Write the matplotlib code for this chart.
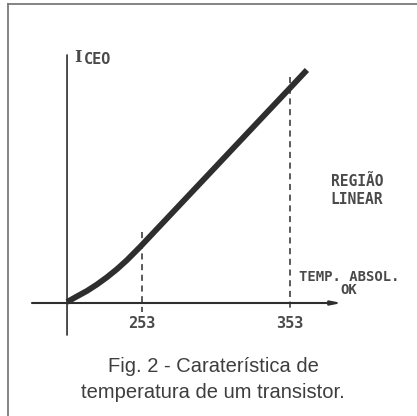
import numpy as np
import matplotlib
matplotlib.use("Agg")
import matplotlib.pyplot as plt
from matplotlib.lines import Line2D

# Curva I_CEO x temperatura absoluta (unidades arbitrarias de corrente)
temp_k = [202.3, 209.0, 215.8, 222.5, 229.3, 236.1, 242.8, 251.6,
          296.9, 331.3, 353.0, 364.4]
i_ceo = [0.1, 0.66, 1.21, 1.85, 2.58, 3.39, 4.29, 5.6,
         12.7, 18.1, 21.5, 23.3]

# temperaturas marcadas no eixo e topo das linhas tracejadas
marcas = [253, 353]
topo_marcas = [7.1, 22.6]
t_origem = 202.3

ink = "#2e2e2e"
txt = "#4a4a4a"

fig = plt.figure(figsize=(4.17, 4.16), dpi=100)
ax = fig.add_axes([0, 0, 1, 1])
ax.set_xlim(157.0, 438.8)
ax.set_ylim(-11.3, 30.3)
ax.axis("off")

# moldura (topo e esquerda)
fig.add_artist(Line2D([8 / 417, 1], [1 - 4 / 416] * 2, color="#7a7a7a", lw=1.3))
fig.add_artist(Line2D([8 / 417] * 2, [0, 1 - 4 / 416], color="#7a7a7a", lw=1.3))

# eixos com setas
ax.annotate("", xy=(388, 0), xytext=(178.6, 0),
            arrowprops=dict(arrowstyle="-|>,head_length=0.6,head_width=0.12",
                            color=ink, lw=1.5, shrinkA=0, shrinkB=0))
ax.annotate("", xy=(t_origem, 24.8), xytext=(t_origem, -3.2),
            arrowprops=dict(arrowstyle="-", color=ink, lw=1.2,
                            shrinkA=0, shrinkB=0))

# linhas tracejadas nas temperaturas marcadas
for t, top in zip(marcas, topo_marcas):
    ax.plot([t, t], [top, -0.9], color=ink, lw=1.1, ls=(0, (4, 3)))
    ax.text(t, -2.0, str(t), ha="center", va="center", color=txt,
            fontsize=11, fontweight="bold", family="DejaVu Sans Mono")

ax.plot(temp_k, i_ceo, color=ink, lw=4.2, solid_capstyle="butt",
        solid_joinstyle="round")

mono = dict(color=txt, fontweight="bold", family="DejaVu Sans Mono")
ax.text(207.0, 24.5, "I", ha="left", va="center", fontsize=11.5,
        color=txt, fontweight="bold", family="DejaVu Serif")
ax.text(213.5, 24.4, "CEO", ha="left", va="center", fontsize=11, **mono)
ax.text(398.2, 12.1, "REGIÃO", ha="center", va="center", fontsize=10.5, **mono)
ax.text(398.2, 10.3, "LINEAR", ha="center", va="center", fontsize=10.5, **mono)
ax.text(349 / 1.48 + 157, 2.6, "TEMP. ABSOL.", ha="center", va="center",
        fontsize=10, **mono)
ax.text(349 / 1.48 + 157, 1.3, "OK", ha="center", va="center", fontsize=10,
        **mono)

cap = dict(ha="center", va="center", color="#3e3e3e", fontsize=14.5,
           family=["Liberation Sans Narrow", "Liberation Sans", "DejaVu Sans"])
fig.text(213 / 417, 1 - 366 / 416, "Fig. 2 - Caraterística de", **cap)
fig.text(213 / 417, 1 - 393 / 416, "temperatura de um transistor.", **cap)

fig.savefig("out.png", dpi=100, facecolor="white")
